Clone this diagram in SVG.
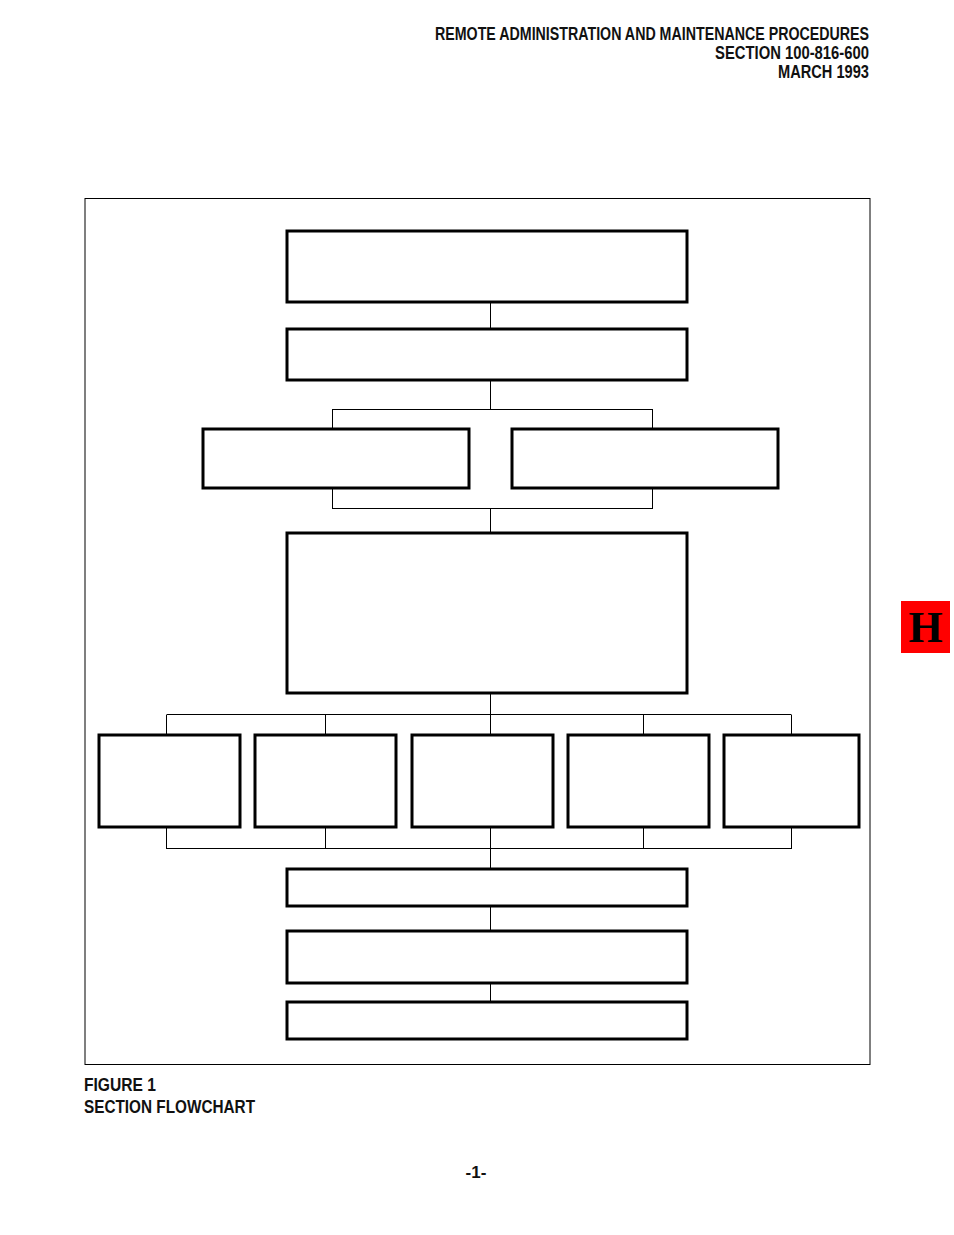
<svg xmlns="http://www.w3.org/2000/svg" width="954" height="1235" viewBox="0 0 954 1235">
<style>
.hdr{font-family:"Liberation Sans",Arial,sans-serif;font-weight:bold;font-size:17.5px;fill:#111}
.box{fill:#fff;stroke:#000;stroke-width:3}
.ln{fill:none;stroke:#000;stroke-width:1}
</style>
<rect x="0" y="0" width="954" height="1235" fill="#fff"/>
<g id="header" class="hdr" text-anchor="end">
<text x="869" y="40" textLength="434" lengthAdjust="spacingAndGlyphs">REMOTE ADMINISTRATION AND MAINTENANCE PROCEDURES</text>
<text x="869" y="59" textLength="154" lengthAdjust="spacingAndGlyphs">SECTION 100-816-600</text>
<text x="869" y="78" textLength="91" lengthAdjust="spacingAndGlyphs">MARCH 1993</text>
</g>
<rect id="frame" x="85" y="198.5" width="785" height="866" fill="none" stroke="#000" stroke-width="1"/>
<g id="connectors" class="ln">
<path d="M490.5 302V329"/>
<path d="M490.5 380V409M332.5 409.5H652.5M332.5 409V429M652.5 409V429"/>
<path d="M332.5 488V509M652.5 488V509M332.5 508.5H652.5M490.5 509V533"/>
<path d="M490.5 693V715M166.5 714.5H791.5M166.5 715V735M325.5 715V735M490.5 715V735M643.5 715V735M791.5 715V735"/>
<path d="M166.5 827V849M325.5 827V849M490.5 827V849M643.5 827V849M791.5 827V849M166.5 848.5H791.5M490.5 849V869"/>
<path d="M490.5 906V931"/>
<path d="M490.5 983V1002"/>
</g>
<g id="n1"><rect class="box" x="287" y="231" width="400" height="71"/></g>
<g id="n2"><rect class="box" x="287" y="329" width="400" height="51"/></g>
<g id="n3a"><rect class="box" x="203" y="429" width="266" height="59"/></g>
<g id="n3b"><rect class="box" x="512" y="429" width="266" height="59"/></g>
<g id="n4"><rect class="box" x="287" y="533" width="400" height="160"/></g>
<g id="n5a"><rect class="box" x="99" y="735" width="141" height="92"/></g>
<g id="n5b"><rect class="box" x="255" y="735" width="141" height="92"/></g>
<g id="n5c"><rect class="box" x="412" y="735" width="141" height="92"/></g>
<g id="n5d"><rect class="box" x="568" y="735" width="141" height="92"/></g>
<g id="n5e"><rect class="box" x="724" y="735" width="135" height="92"/></g>
<g id="n6"><rect class="box" x="287" y="869" width="400" height="37"/></g>
<g id="n7"><rect class="box" x="287" y="931" width="400" height="52"/></g>
<g id="n8"><rect class="box" x="287" y="1002" width="400" height="37"/></g>
<g id="tab">
<rect x="901" y="601" width="49" height="52" fill="#ff0000"/>
<text x="925.5" y="642" text-anchor="middle" font-family="Liberation Serif,'Times New Roman',serif" font-weight="bold" font-size="44" fill="#000">H</text>
</g>
<g id="caption" class="hdr" style="font-size:18.5px">
<text x="84" y="1091" textLength="72" lengthAdjust="spacingAndGlyphs">FIGURE 1</text>
<text x="84" y="1113" textLength="171" lengthAdjust="spacingAndGlyphs">SECTION FLOWCHART</text>
</g>
<text id="page" x="476" y="1178" text-anchor="middle" class="hdr" style="font-size:17px">-1-</text>
</svg>
